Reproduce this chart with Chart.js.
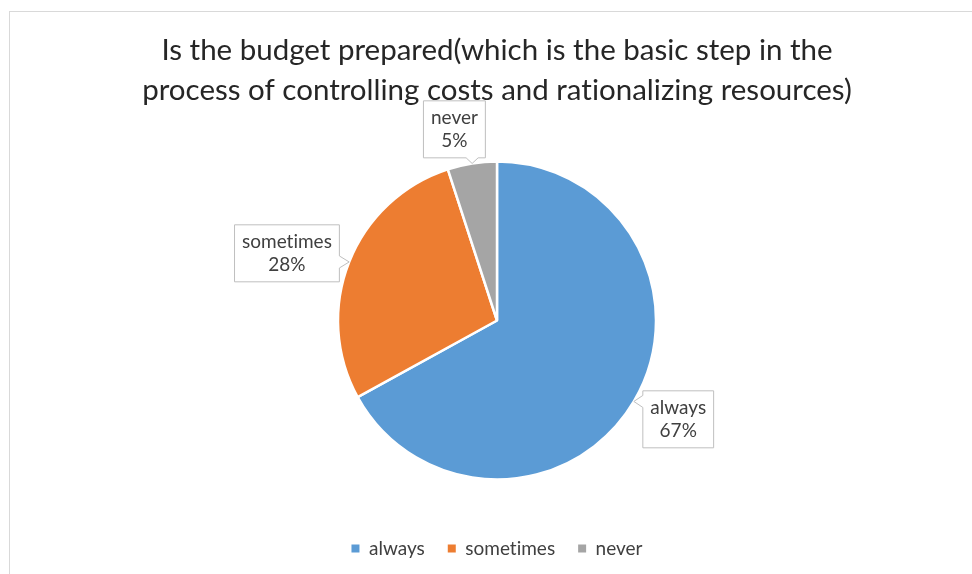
<!DOCTYPE html>
<html>
<head>
<meta charset="utf-8">
<script src="https://cdn.jsdelivr.net/npm/chart.js@4"></script>
<style>
  body { margin: 0; background: #fff; }
  canvas { display: block; font-variant-ligatures: none; }
</style>
</head>
<body>
<canvas id="chart" width="972" height="574"></canvas>
<script>
const categories = ['always', 'sometimes', 'never'];
const values = [67, 28, 5];
const colors = ['#5b9bd5', '#ed7d31', '#a5a5a5'];
const titleLines = [
    'Is the budget prepared(which is the basic step in the',
    'process of controlling costs and rationalizing resources)'
];

const fontFamily = 'Lato, "Open Sans", sans-serif';
const textColor = '#404040';

// where each callout sits: distance along the slice middle (x radius) + small shift in px
const calloutPos = [
    { f: 1.295, dx: 4, dy: -6 },
    { f: 1.387, dx: -5, dy: 14 },
    { f: 1.23, dx: -12, dy: 2 }
];

// light frame like the original screenshot
const framePlugin = {
    id: 'frame',
    beforeDraw(chart) {
        const ctx = chart.ctx;
        // no "ti" ligatures from Lato
        if ('textRendering' in ctx) ctx.textRendering = 'optimizeSpeed';
        ctx.save();
        ctx.fillStyle = '#fff';
        ctx.fillRect(0, 0, chart.width, chart.height);
        ctx.strokeStyle = '#d9d9d9';
        ctx.lineWidth = 1;
        ctx.strokeRect(9.5, 11.5, chart.width + 20, chart.height + 20);
        ctx.restore();
    }
};

// excel style callout data labels
const calloutPlugin = {
    id: 'callouts',
    afterDatasetsDraw(chart) {
        const ctx = chart.ctx;
        const meta = chart.getDatasetMeta(0);
        const data = chart.data.datasets[0].data;
        const total = data.reduce((a, b) => a + b, 0);
        ctx.save();
        ctx.font = '19px ' + fontFamily;
        ctx.textAlign = 'center';
        ctx.textBaseline = 'middle';
        meta.data.forEach((arc, i) => {
            const p = arc.getProps(['x', 'y', 'startAngle', 'endAngle', 'outerRadius'], true);
            const mid = (p.startAngle + p.endAngle) / 2;
            const cos = Math.cos(mid), sin = Math.sin(mid);
            const pos = calloutPos[i];
            const cx = p.x + cos * p.outerRadius * pos.f + pos.dx;
            const cy = p.y + sin * p.outerRadius * pos.f + pos.dy;
            const lines = [chart.data.labels[i], Math.round(data[i] / total * 100) + '%'];
            const lh = 23;
            const w = Math.max(...lines.map(t => ctx.measureText(t).width)) + 15;
            const h = lines.length * lh + 11;
            const l = cx - w / 2, r = cx + w / 2, t = cy - h / 2, b = cy + h / 2;
            const tx = p.x + cos * p.outerRadius;
            const ty = p.y + sin * p.outerRadius;
            const half = 6;
            const clamp = (v, lo, hi) => Math.max(lo, Math.min(hi, v));

            // outline with pointer on the edge facing the slice
            ctx.beginPath();
            ctx.moveTo(l, t);
            if (ty < t && tx >= l && tx <= r) {
                const m = clamp(tx, l + half, r - half);
                ctx.lineTo(m - half, t); ctx.lineTo(tx, ty); ctx.lineTo(m + half, t);
            }
            ctx.lineTo(r, t);
            if (tx > r) {
                const m = clamp(ty, t + half, b - half);
                ctx.lineTo(r, m - half); ctx.lineTo(tx, ty); ctx.lineTo(r, m + half);
            }
            ctx.lineTo(r, b);
            if (ty > b && tx >= l && tx <= r) {
                const m = clamp(tx, l + half, r - half);
                ctx.lineTo(m + half, b); ctx.lineTo(tx, ty); ctx.lineTo(m - half, b);
            }
            ctx.lineTo(l, b);
            if (tx < l) {
                const m = clamp(ty, t + half, b - half);
                ctx.lineTo(l, m + half); ctx.lineTo(tx, ty); ctx.lineTo(l, m - half);
            }
            ctx.closePath();
            ctx.fillStyle = '#fff';
            ctx.fill();
            ctx.strokeStyle = '#bfbfbf';
            ctx.lineWidth = 1;
            ctx.stroke();

            ctx.fillStyle = textColor;
            lines.forEach((txt, k) => {
                ctx.fillText(txt, cx, cy + (k - (lines.length - 1) / 2) * lh);
            });
        });
        ctx.restore();
    }
};

function setupChart() {
    const ctx = document.getElementById('chart').getContext('2d');
    new Chart(ctx, {
        type: 'pie',
        data: {
            labels: categories,
            datasets: [{
                data: values,
                backgroundColor: colors,
                borderColor: '#fff',
                borderWidth: 2.5,
                radius: 159
            }]
        },
        options: {
            responsive: false,
            animation: false,
            layout: { padding: { left: 22, right: 0, top: 0, bottom: 6 } },
            plugins: {
                title: {
                    display: true,
                    text: titleLines,
                    color: '#262626',
                    font: { family: fontFamily, size: 29.5, weight: 'normal', lineHeight: 40 / 29.5 },
                    padding: { top: 30, bottom: 15 }
                },
                legend: {
                    position: 'bottom',
                    labels: {
                        color: textColor,
                        font: { family: fontFamily, size: 19 },
                        boxWidth: 8,
                        boxHeight: 8,
                        padding: 23,
                        generateLabels(chart) {
                            const items = Chart.overrides.pie.plugins.legend.labels.generateLabels(chart);
                            items.forEach(it => { it.lineWidth = 0; it.strokeStyle = it.fillStyle; });
                            return items;
                        }
                    }
                },
                tooltip: { enabled: false }
            }
        },
        plugins: [framePlugin, calloutPlugin]
    });
}

setupChart();
</script>
</body>
</html>
